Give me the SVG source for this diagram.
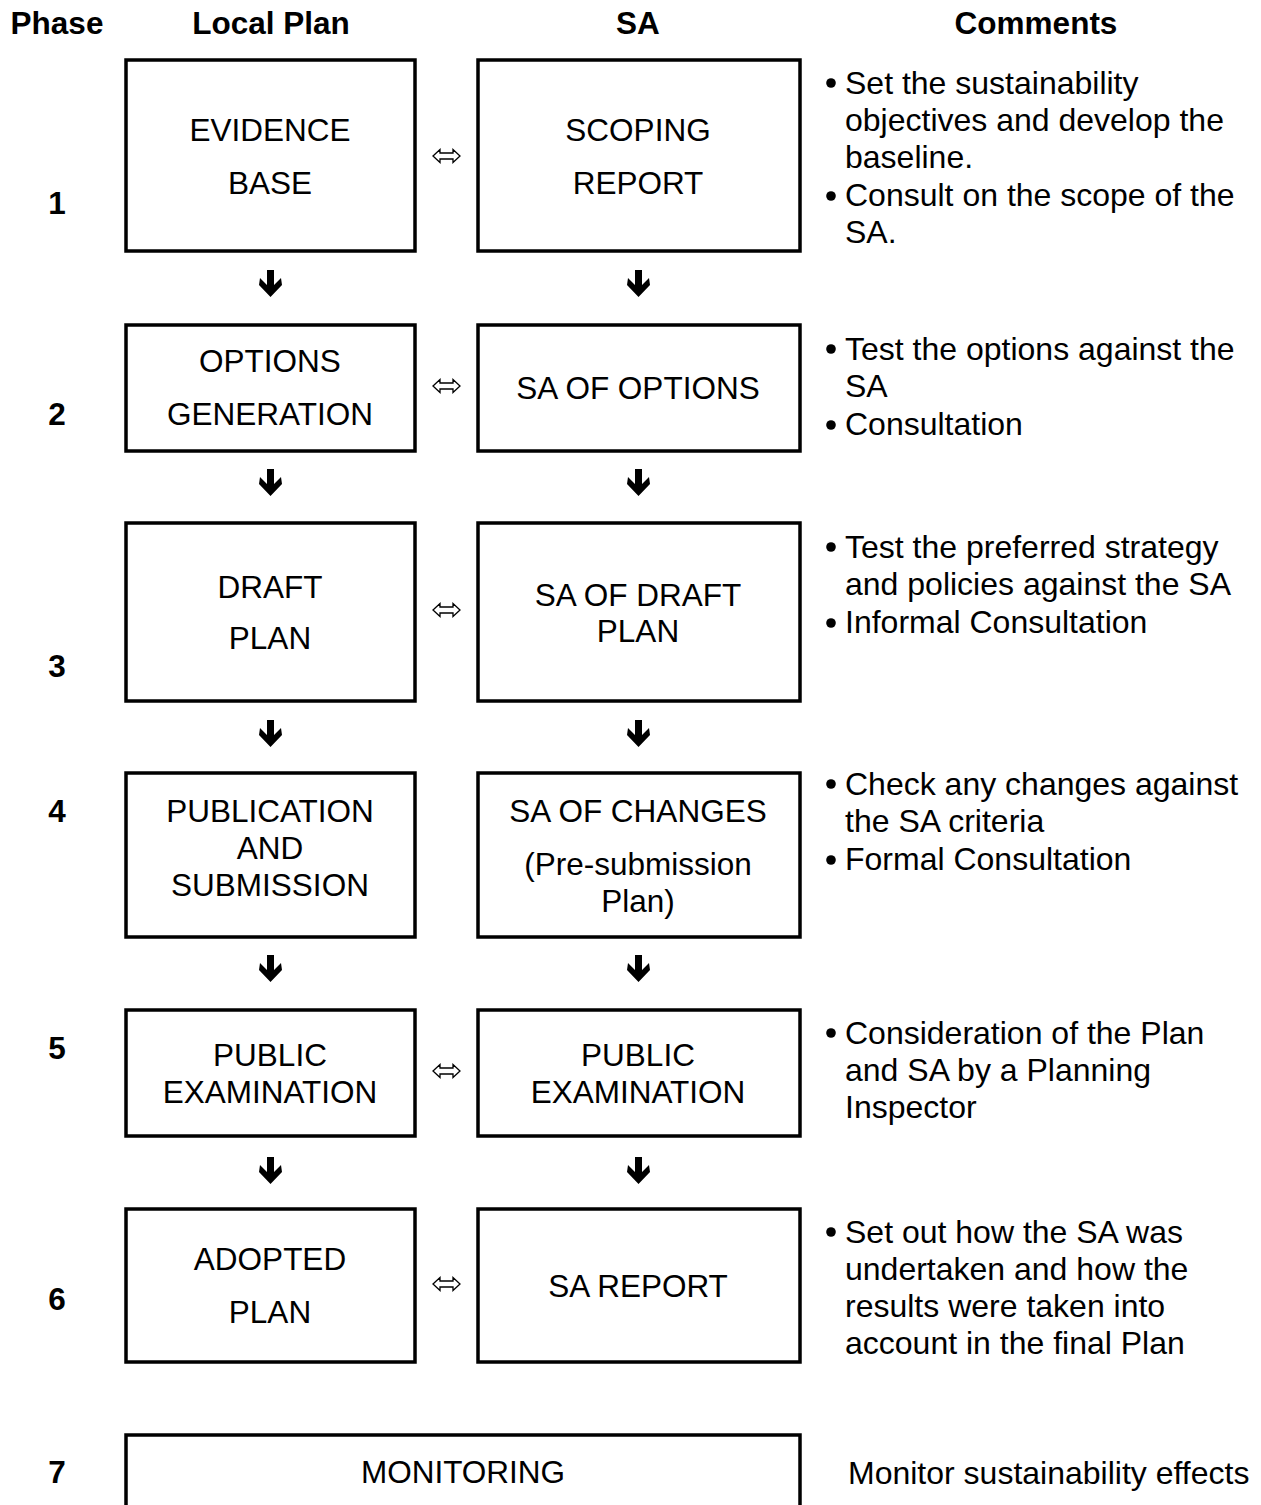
<svg xmlns="http://www.w3.org/2000/svg" width="1261" height="1505" viewBox="0 0 1261 1505">
<defs>
<style>
.box{fill:#fff;stroke:#000;stroke-width:3.5}
.t{font-family:"Liberation Sans",Arial,sans-serif;font-size:31.5px;fill:#000;text-anchor:middle}
.h{font-family:"Liberation Sans",Arial,sans-serif;font-size:31.5px;font-weight:bold;fill:#000;text-anchor:middle}
.c{font-family:"Liberation Sans",Arial,sans-serif;font-size:32px;fill:#000}
.da{fill:#fff;stroke:#000;stroke-width:1.3}
.ar{fill:#000}
</style>
<path id="dbl" d="M-13.5,0 L-6.5,-6.5 L-6.5,-3 L6.5,-3 L6.5,-6.5 L13.5,0 L6.5,6.5 L6.5,3 L-6.5,3 L-6.5,6.5 Z"/>
<path id="down" d="M-3.5,-15 L3.5,-15 L3.5,0 L10.5,-7 L11.5,0 L0,12 L-11.5,0 L-10.5,-7 L-3.5,0 Z"/>
</defs>
<rect width="1261" height="1505" fill="#fff"/>

<g id="headers">
<text class="h" x="57" y="34">Phase</text>
<text class="h" x="271" y="34">Local Plan</text>
<text class="h" x="638" y="34">SA</text>
<text class="h" x="1036" y="34">Comments</text>
</g>

<g id="phases">
<text class="h" x="57" y="214">1</text>
<text class="h" x="57" y="425">2</text>
<text class="h" x="57" y="677">3</text>
<text class="h" x="57" y="822">4</text>
<text class="h" x="57" y="1059">5</text>
<text class="h" x="57" y="1310">6</text>
<text class="h" x="57" y="1483">7</text>
</g>

<g id="lp1"><rect class="box" x="126" y="60" width="289" height="191"/>
<text class="t" x="270" y="141">EVIDENCE</text><text class="t" x="270" y="194">BASE</text></g>
<g id="sa1"><rect class="box" x="478" y="60" width="322" height="191"/>
<text class="t" x="638" y="141">SCOPING</text><text class="t" x="638" y="194">REPORT</text></g>

<g id="lp2"><rect class="box" x="126" y="325" width="289" height="126"/>
<text class="t" x="270" y="372">OPTIONS</text><text class="t" x="270" y="425">GENERATION</text></g>
<g id="sa2"><rect class="box" x="478" y="325" width="322" height="126"/>
<text class="t" x="638" y="399">SA OF OPTIONS</text></g>

<g id="lp3"><rect class="box" x="126" y="523" width="289" height="178"/>
<text class="t" x="270" y="598">DRAFT</text><text class="t" x="270" y="649">PLAN</text></g>
<g id="sa3"><rect class="box" x="478" y="523" width="322" height="178"/>
<text class="t" x="638" y="606">SA OF DRAFT</text><text class="t" x="638" y="642">PLAN</text></g>

<g id="lp4"><rect class="box" x="126" y="773" width="289" height="164"/>
<text class="t" x="270" y="822">PUBLICATION</text><text class="t" x="270" y="859">AND</text><text class="t" x="270" y="896">SUBMISSION</text></g>
<g id="sa4"><rect class="box" x="478" y="773" width="322" height="164"/>
<text class="t" x="638" y="822">SA OF CHANGES</text><text class="t" x="638" y="875">(Pre-submission</text><text class="t" x="638" y="912">Plan)</text></g>

<g id="lp5"><rect class="box" x="126" y="1010" width="289" height="126"/>
<text class="t" x="270" y="1066">PUBLIC</text><text class="t" x="270" y="1103">EXAMINATION</text></g>
<g id="sa5"><rect class="box" x="478" y="1010" width="322" height="126"/>
<text class="t" x="638" y="1066">PUBLIC</text><text class="t" x="638" y="1103">EXAMINATION</text></g>

<g id="lp6"><rect class="box" x="126" y="1209" width="289" height="153"/>
<text class="t" x="270" y="1270">ADOPTED</text><text class="t" x="270" y="1323">PLAN</text></g>
<g id="sa6"><rect class="box" x="478" y="1209" width="322" height="153"/>
<text class="t" x="638" y="1297">SA REPORT</text></g>

<g id="mon"><rect class="box" x="126" y="1435" width="674" height="90"/>
<text class="t" x="463" y="1483">MONITORING</text></g>

<g id="comments">
<g class="c">
<circle cx="831" cy="83" r="4.8"/><text class="c" x="845" y="94">Set the sustainability</text>
<text class="c" x="845" y="131">objectives and develop the</text>
<text class="c" x="845" y="168">baseline.</text>
<circle cx="831" cy="196" r="4.8"/><text class="c" x="845" y="206">Consult on the scope of the</text>
<text class="c" x="845" y="243">SA.</text>

<circle cx="831" cy="349" r="4.8"/><text class="c" x="845" y="360">Test the options against the</text>
<text class="c" x="845" y="397">SA</text>
<circle cx="831" cy="425" r="4.8"/><text class="c" x="845" y="435">Consultation</text>

<circle cx="831" cy="547" r="4.8"/><text class="c" x="845" y="558">Test the preferred strategy</text>
<text class="c" x="845" y="595">and policies against the SA</text>
<circle cx="831" cy="623" r="4.8"/><text class="c" x="845" y="633">Informal Consultation</text>

<circle cx="831" cy="784" r="4.8"/><text class="c" x="845" y="795">Check any changes against</text>
<text class="c" x="845" y="832">the SA criteria</text>
<circle cx="831" cy="860" r="4.8"/><text class="c" x="845" y="870">Formal Consultation</text>

<circle cx="831" cy="1033" r="4.8"/><text class="c" x="845" y="1044">Consideration of the Plan</text>
<text class="c" x="845" y="1081">and SA by a Planning</text>
<text class="c" x="845" y="1118">Inspector</text>

<circle cx="831" cy="1232" r="4.8"/><text class="c" x="845" y="1243">Set out how the SA was</text>
<text class="c" x="845" y="1280">undertaken and how the</text>
<text class="c" x="845" y="1317">results were taken into</text>
<text class="c" x="845" y="1354">account in the final Plan</text>

<text class="c" x="848" y="1484">Monitor sustainability effects</text>
</g>
</g>

<g id="connectors">
<use href="#dbl" class="da" x="446.5" y="156"/>
<use href="#dbl" class="da" x="446.5" y="386"/>
<use href="#dbl" class="da" x="446.5" y="610"/>
<use href="#dbl" class="da" x="446.5" y="1071"/>
<use href="#dbl" class="da" x="446.5" y="1284"/>

<use href="#down" class="ar" x="270.5" y="285"/>
<use href="#down" class="ar" x="638.5" y="285"/>
<use href="#down" class="ar" x="270.5" y="484"/>
<use href="#down" class="ar" x="638.5" y="484"/>
<use href="#down" class="ar" x="270.5" y="735"/>
<use href="#down" class="ar" x="638.5" y="735"/>
<use href="#down" class="ar" x="270.5" y="970"/>
<use href="#down" class="ar" x="638.5" y="970"/>
<use href="#down" class="ar" x="270.5" y="1172"/>
<use href="#down" class="ar" x="638.5" y="1172"/>
</g>
</svg>
